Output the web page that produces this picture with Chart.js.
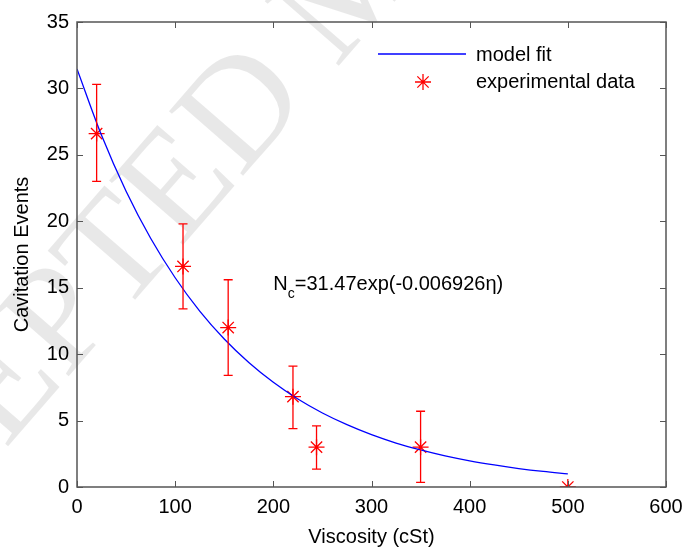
<!DOCTYPE html>
<html>
<head>
<meta charset="utf-8">
<script src="https://cdn.jsdelivr.net/npm/chart.js@4/dist/chart.umd.min.js"></script>
<style>
	html, body { margin: 0; padding: 0; background: #fff; }
	#wrap { width: 683px; height: 548px; }
</style>
</head>
<body>
<div id="wrap"><canvas id="myChart"></canvas></div>
<script>
let viscosity = [20, 108, 154, 220, 244, 350, 500]
let events = [26.6, 16.6, 12.0, 6.8, 3.0, 3.0, 0]
let errHigh = [30.3, 19.8, 15.6, 9.1, 4.6, 5.7, 0]
let errLow = [23.0, 13.4, 8.4, 4.4, 1.35, 0.35, 0]

// model fit curve
let fitX = [0, 25, 50, 75, 100, 125, 150, 175, 200, 225, 250, 275, 300, 325, 350, 375, 400, 425, 450, 475, 500]
let fitY = [31.47, 26.47, 22.26, 18.72, 15.75, 13.24, 11.14, 9.37, 7.88, 6.62, 5.57, 4.69, 3.94, 3.31, 2.79, 2.34, 1.97, 1.66, 1.39, 1.17, 0.99]

let xTicks = [0, 100, 200, 300, 400, 500, 600]
let yTicks = [0, 5, 10, 15, 20, 25, 30, 35]

let legendLabels = ['model fit', 'experimental data']
let xTitle = 'Viscosity (cSt)'
let yTitle = 'Cavitation Events'
let fitText = ['N', 'c', '=31.47exp(-0.006926\u03b7)']
let fitTextPos = { x: 200, y: 14.8 }

let font = '"Liberation Sans", Arial, sans-serif'
let red = '#ff0000'
let blue = '#0000ff'
let axisColor = '#555'

let watermark = {
	id: 'watermark',
	beforeDraw: chart => {
		let ctx = chart.ctx
		ctx.save()
		ctx.font = '150px "Liberation Serif", "DejaVu Serif", serif'
		ctx.fillStyle = 'rgba(0,0,0,0.09)'
		let txt = 'ACCEPTED MANUSCRIPT'
		let pre = ctx.measureText('ACCE').width
		let p = ctx.measureText('P').width
		ctx.translate(55, 316)
		ctx.rotate(-49 * Math.PI / 180)
		ctx.textBaseline = 'alphabetic'
		ctx.fillText(txt, -(pre + p / 2), 50)
		ctx.restore()
	}
}

let extras = {
	id: 'extras',
	afterDatasetsDraw: chart => {
		let ctx = chart.ctx
		let xs = chart.scales.x, ys = chart.scales.y
		// error bars
		ctx.save()
		ctx.strokeStyle = red
		ctx.lineWidth = 1.3
		viscosity.forEach((v, i) => {
			if (errHigh[i] === errLow[i]) return
			let px = xs.getPixelForValue(v)
			let top = ys.getPixelForValue(errHigh[i])
			let bot = ys.getPixelForValue(errLow[i])
			ctx.beginPath()
			ctx.moveTo(px, top); ctx.lineTo(px, bot)
			ctx.moveTo(px - 4.5, top); ctx.lineTo(px + 4.5, top)
			ctx.moveTo(px - 4.5, bot); ctx.lineTo(px + 4.5, bot)
			ctx.stroke()
		})
		ctx.restore()
	},
	afterDraw: chart => {
		let ctx = chart.ctx
		let a = chart.chartArea
		let xs = chart.scales.x, ys = chart.scales.y
		ctx.save()
		// frame + inward ticks
		ctx.strokeStyle = axisColor
		ctx.lineWidth = 1.5
		ctx.strokeRect(a.left, a.top, a.right - a.left, a.bottom - a.top)
		ctx.lineWidth = 1
		ctx.beginPath()
		xTicks.forEach(t => {
			let px = Math.round(xs.getPixelForValue(t)) + 0.5
			ctx.moveTo(px, a.bottom); ctx.lineTo(px, a.bottom - 6)
			ctx.moveTo(px, a.top); ctx.lineTo(px, a.top + 6)
		})
		yTicks.forEach(t => {
			let py = Math.round(ys.getPixelForValue(t)) + 0.5
			ctx.moveTo(a.left, py); ctx.lineTo(a.left + 6, py)
			ctx.moveTo(a.right, py); ctx.lineTo(a.right - 6, py)
		})
		ctx.stroke()

		// axis titles
		ctx.fillStyle = '#000'
		ctx.font = '20px ' + font
		ctx.textAlign = 'center'
		ctx.textBaseline = 'alphabetic'
		ctx.fillText(xTitle, (a.left + a.right) / 2, 543)
		ctx.save()
		ctx.translate(28, (a.top + a.bottom) / 2)
		ctx.rotate(-Math.PI / 2)
		ctx.fillText(yTitle, 0, 0)
		ctx.restore()

		// fit equation
		ctx.textAlign = 'left'
		let tx = xs.getPixelForValue(fitTextPos.x)
		let ty = ys.getPixelForValue(fitTextPos.y)
		ctx.font = '20px ' + font
		ctx.fillText(fitText[0], tx, ty)
		tx += ctx.measureText(fitText[0]).width
		ctx.font = '14px ' + font
		ctx.fillText(fitText[1], tx, ty + 8)
		tx += ctx.measureText(fitText[1]).width
		ctx.font = '20px ' + font
		ctx.fillText(fitText[2], tx, ty)

		// legend
		let lx = a.right - 288, ly = a.top + 32
		ctx.strokeStyle = blue
		ctx.lineWidth = 1.3
		ctx.beginPath()
		ctx.moveTo(lx, ly); ctx.lineTo(lx + 88, ly)
		ctx.stroke()
		let sx = lx + 45, sy = ly + 28, r = 8
		ctx.strokeStyle = red
		ctx.beginPath()
		ctx.moveTo(sx - r, sy); ctx.lineTo(sx + r, sy)
		ctx.moveTo(sx, sy - r); ctx.lineTo(sx, sy + r)
		let d = r * Math.SQRT1_2
		ctx.moveTo(sx - d, sy - d); ctx.lineTo(sx + d, sy + d)
		ctx.moveTo(sx - d, sy + d); ctx.lineTo(sx + d, sy - d)
		ctx.stroke()
		ctx.fillStyle = '#000'
		ctx.font = '20px ' + font
		ctx.textBaseline = 'middle'
		ctx.fillText(legendLabels[0], lx + 98, ly + 1)
		ctx.fillText(legendLabels[1], lx + 98, sy)
		ctx.restore()
	}
}

let fitData = fitX.map((x, i) => ({ x: x, y: fitY[i] }))
let expData = viscosity.map((x, i) => ({ x: x, y: events[i] }))

new Chart(document.getElementById('myChart'), {
	type: 'scatter',
	data: {
		datasets: [
			{
				label: legendLabels[0],
				data: fitData,
				showLine: true,
				borderColor: blue,
				borderWidth: 1.3,
				pointRadius: 0,
				cubicInterpolationMode: 'monotone',
				fill: false
			},
			{
				label: legendLabels[1],
				data: expData,
				pointStyle: 'star',
				pointRadius: 8,
				borderColor: red,
				backgroundColor: red,
				pointBorderWidth: 1.3
			}
		]
	},
	options: {
		responsive: true,
		maintainAspectRatio: false,
		animation: false,
		layout: { padding: { top: 22, right: 17, left: 0, bottom: 0 } },
		plugins: { legend: { display: false }, tooltip: { enabled: false } },
		scales: {
			x: {
				type: 'linear',
				min: 0, max: 600,
				grid: { display: false, drawTicks: false },
				border: { display: false },
				afterFit: s => { s.height = 61; s.paddingLeft = 0; s.paddingRight = 0 },
				afterBuildTicks: s => { s.ticks = xTicks.map(v => ({ value: v })) },
				ticks: { color: '#000', font: { family: font, size: 20 }, padding: 8, maxRotation: 0 }
			},
			y: {
				type: 'linear',
				min: 0, max: 35,
				grid: { display: false, drawTicks: false },
				border: { display: false },
				afterFit: s => { s.width = 77; s.paddingTop = 0; s.paddingBottom = 0 },
				afterBuildTicks: s => { s.ticks = yTicks.map(v => ({ value: v })) },
				ticks: { color: '#000', font: { family: font, size: 20 }, padding: 8 }
			}
		}
	},
	plugins: [watermark, extras]
})
</script>
</body>
</html>
